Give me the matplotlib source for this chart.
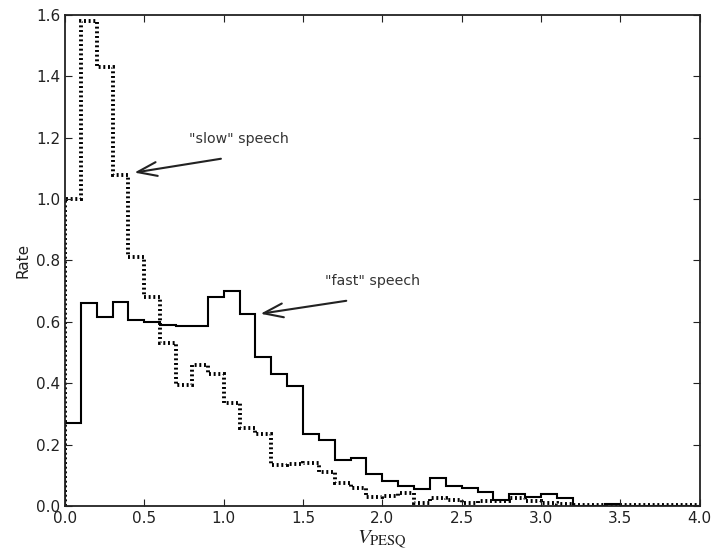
import numpy as np
import matplotlib
matplotlib.use("Agg")
import matplotlib.pyplot as plt

plt.rcParams['mathtext.fontset'] = 'stix'

# histogram bins, width 0.1 from 0 to 4
bin_width = 0.1
edges = np.round(np.arange(0, 4.0 + bin_width / 2, bin_width), 2)

# "fast" speech (solid)
fast_rate = [0.27, 0.66, 0.615, 0.665, 0.605, 0.60, 0.59, 0.585, 0.585, 0.68,
             0.70, 0.625, 0.485, 0.43, 0.39, 0.235, 0.215, 0.15, 0.155, 0.105,
             0.08, 0.065, 0.055, 0.09, 0.065, 0.06, 0.045, 0.02, 0.04, 0.03,
             0.04, 0.025, 0.0, 0.0, 0.005, 0.0, 0.0, 0.0, 0.0, 0.0]

# "slow" speech (dotted)
slow_rate = [1.0, 1.58, 1.43, 1.08, 0.81, 0.68, 0.53, 0.395, 0.46, 0.43,
             0.335, 0.255, 0.235, 0.135, 0.137, 0.14, 0.11, 0.075, 0.058, 0.028,
             0.032, 0.043, 0.01, 0.025, 0.02, 0.01, 0.015, 0.015, 0.025, 0.015,
             0.01, 0.005, 0.003, 0.003, 0.003, 0.003, 0.003, 0.003, 0.003, 0.003]

fig = plt.figure(figsize=(7.14, 5.56), dpi=100)
ax = fig.add_axes([0.091, 0.090, 0.889, 0.883])

ax.stairs(slow_rate, edges, color='black', linestyle=(0, (0.5, 0.7)),
          linewidth=2.8, baseline=0)
ax.stairs(fast_rate, edges, color='black', linestyle='-', linewidth=1.5, baseline=0)

ax.set_xlim(0, 4)
ax.set_ylim(0, 1.6)
ax.set_xticks(np.arange(0, 4.01, 0.5))
ax.set_yticks(np.arange(0, 1.61, 0.2))
ax.xaxis.set_major_formatter(matplotlib.ticker.FormatStrFormatter('%.1f'))
ax.yaxis.set_major_formatter(matplotlib.ticker.FormatStrFormatter('%.1f'))
ax.tick_params(direction='in', top=True, right=True, length=5, labelsize=11,
               colors='#222222')
for s in ax.spines.values():
    s.set_linewidth(1.3)
    s.set_color('#222222')

ax.set_xlabel(r'$V_{\mathrm{PESQ}}$', fontsize=15, color='#222222', labelpad=2)
ax.set_ylabel('Rate', fontsize=11, color='#222222')

arrow = dict(arrowstyle='->, head_length=1.4, head_width=0.5', color='#222222', lw=1.5)
ax.annotate('', xy=(0.42, 1.085), xytext=(1.0, 1.133), arrowprops=arrow)
ax.text(0.78, 1.195, '"slow" speech', fontsize=10.2, va='center', color='#333333')
ax.annotate('', xy=(1.215, 0.625), xytext=(1.79, 0.67), arrowprops=arrow)
ax.text(1.64, 0.733, '"fast" speech', fontsize=10.2, va='center', color='#333333')

fig.savefig('out.png', dpi=100)
